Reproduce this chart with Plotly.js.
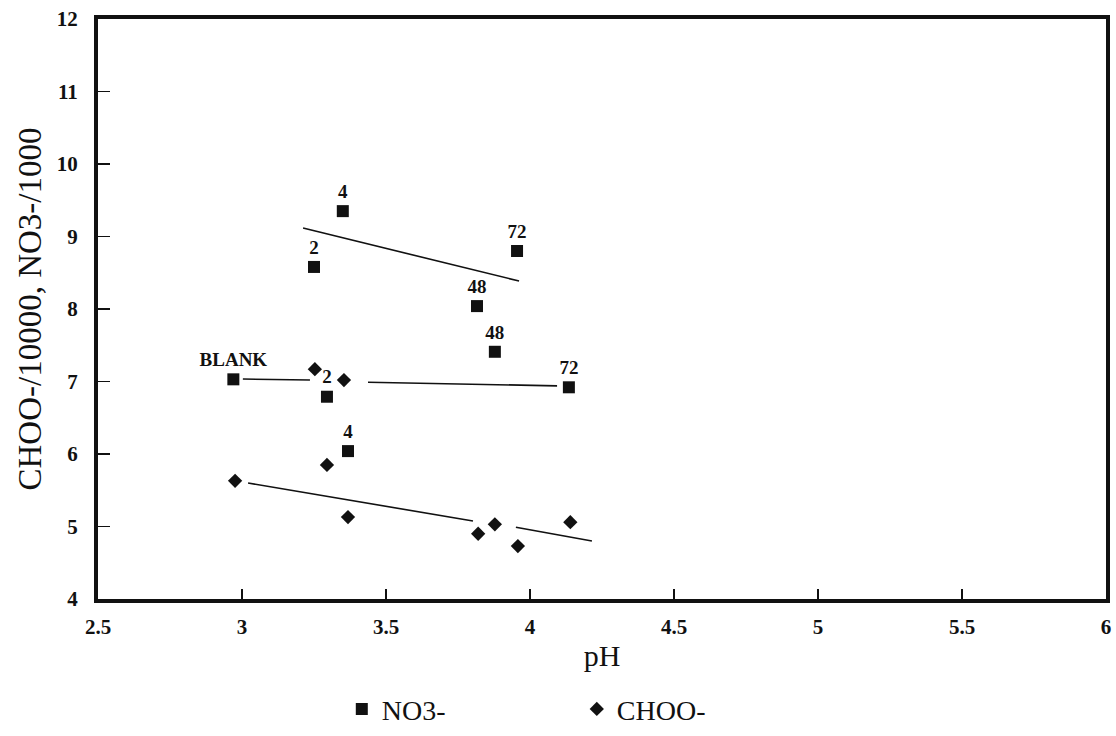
<!DOCTYPE html>
<html>
<head>
<meta charset="utf-8">
<script src="https://cdn.plot.ly/plotly-3.0.1.min.js"></script>
<style>html,body{margin:0;padding:0;background:#fff;}#chart{width:1116px;height:736px;}</style>
</head>
<body>
<div id="chart"></div>
<script>
// NO3- points (pH, NO3-/1000) with sample-time labels
const no3_pH    = [2.97, 3.25, 3.35, 3.295, 3.368, 3.816, 3.878, 3.955, 4.135];
const no3_val   = [7.03, 8.58, 9.35, 6.79, 6.04, 8.04, 7.41, 8.80, 6.92];
const no3_label = ["BLANK", "2", "4", "2", "4", "48", "48", "72", "72"];

// CHOO- points (pH, CHOO-/10000)
const choo_pH  = [2.976, 3.253, 3.354, 3.295, 3.368, 3.82, 3.878, 3.958, 4.14];
const choo_val = [5.63, 7.17, 7.02, 5.85, 5.13, 4.90, 5.03, 4.73, 5.06];

// trend lines (gaps where the original line is broken)
const trendNO3_x  = [3.212, 3.962];
const trendNO3_y  = [9.117, 8.386];
const trendMid_x  = [3.003, 3.236, null, 3.4375, 4.094];
const trendMid_y  = [7.034, 7.02, null, 6.99, 6.94];
const trendCHOO_x = [3.021, 3.802, null, 3.951, 4.215];
const trendCHOO_y = [5.60, 5.076, null, 4.99, 4.80];

const xTicks = [2.5, 3, 3.5, 4, 4.5, 5, 5.5, 6];
const yTicks = [4, 5, 6, 7, 8, 9, 10, 11, 12];

const serif = "Liberation Serif, Times New Roman, serif";
const lineStyle = {color: "#111", width: 1.6};

const traces = [
  {x: trendNO3_x, y: trendNO3_y, mode: "lines", line: lineStyle, showlegend: false, hoverinfo: "skip"},
  {x: trendMid_x, y: trendMid_y, mode: "lines", line: lineStyle, showlegend: false, hoverinfo: "skip", connectgaps: false},
  {x: trendCHOO_x, y: trendCHOO_y, mode: "lines", line: lineStyle, showlegend: false, hoverinfo: "skip", connectgaps: false},
  {
    x: no3_pH, y: no3_val, name: "NO3-", mode: "markers+text",
    text: no3_label, textposition: "top center",
    textfont: {family: serif, size: 19, color: "#111", weight: "bold"},
    marker: {symbol: "square", size: 12, color: "#111", line: {color: "#111", width: 0}}
  },
  {
    x: choo_pH, y: choo_val, name: "CHOO-", mode: "markers",
    marker: {symbol: "diamond", size: 11, color: "#111", line: {color: "#111", width: 0}}
  }
];

const layout = {
  width: 1116, height: 736,
  margin: {l: 98, r: 10, t: 19, b: 137, autoexpand: false},
  paper_bgcolor: "#fff", plot_bgcolor: "#fff",
  font: {family: serif, color: "#111"},
  showlegend: true,
  legend: {
    orientation: "h", x: 0.475, xanchor: "center", y: -0.19, yanchor: "middle",
    font: {family: serif, size: 28, color: "#111"},
    entrywidth: 190, itemwidth: 30
  },
  xaxis: {
    range: [2.5, 6], tickvals: xTicks, ticktext: xTicks.map(String),
    showgrid: false, zeroline: false, automargin: false,
    showline: true, linecolor: "#111", linewidth: 4, mirror: true,
    ticks: "inside", ticklen: 10, tickwidth: 1.5, tickcolor: "#111",
    tickfont: {family: serif, size: 21, color: "#111", weight: "bold"},
    ticklabelstandoff: 6,
    title: {text: "pH", font: {family: serif, size: 30, color: "#111"}, standoff: 8}
  },
  yaxis: {
    range: [4, 12], tickvals: yTicks, ticktext: yTicks.map(String),
    showgrid: false, zeroline: false, automargin: false,
    showline: true, linecolor: "#111", linewidth: 4, mirror: true,
    ticks: "inside", ticklen: 12, tickwidth: 1.5, tickcolor: "#111",
    tickfont: {family: serif, size: 21, color: "#111", weight: "bold"},
    ticklabelstandoff: 12,
    title: {text: "CHOO-/10000, NO3-/1000", font: {family: serif, size: 33, color: "#111"}, standoff: 6}
  }
};

Plotly.newPlot("chart", traces, layout, {displayModeBar: false, staticPlot: true});
</script>
</body>
</html>
